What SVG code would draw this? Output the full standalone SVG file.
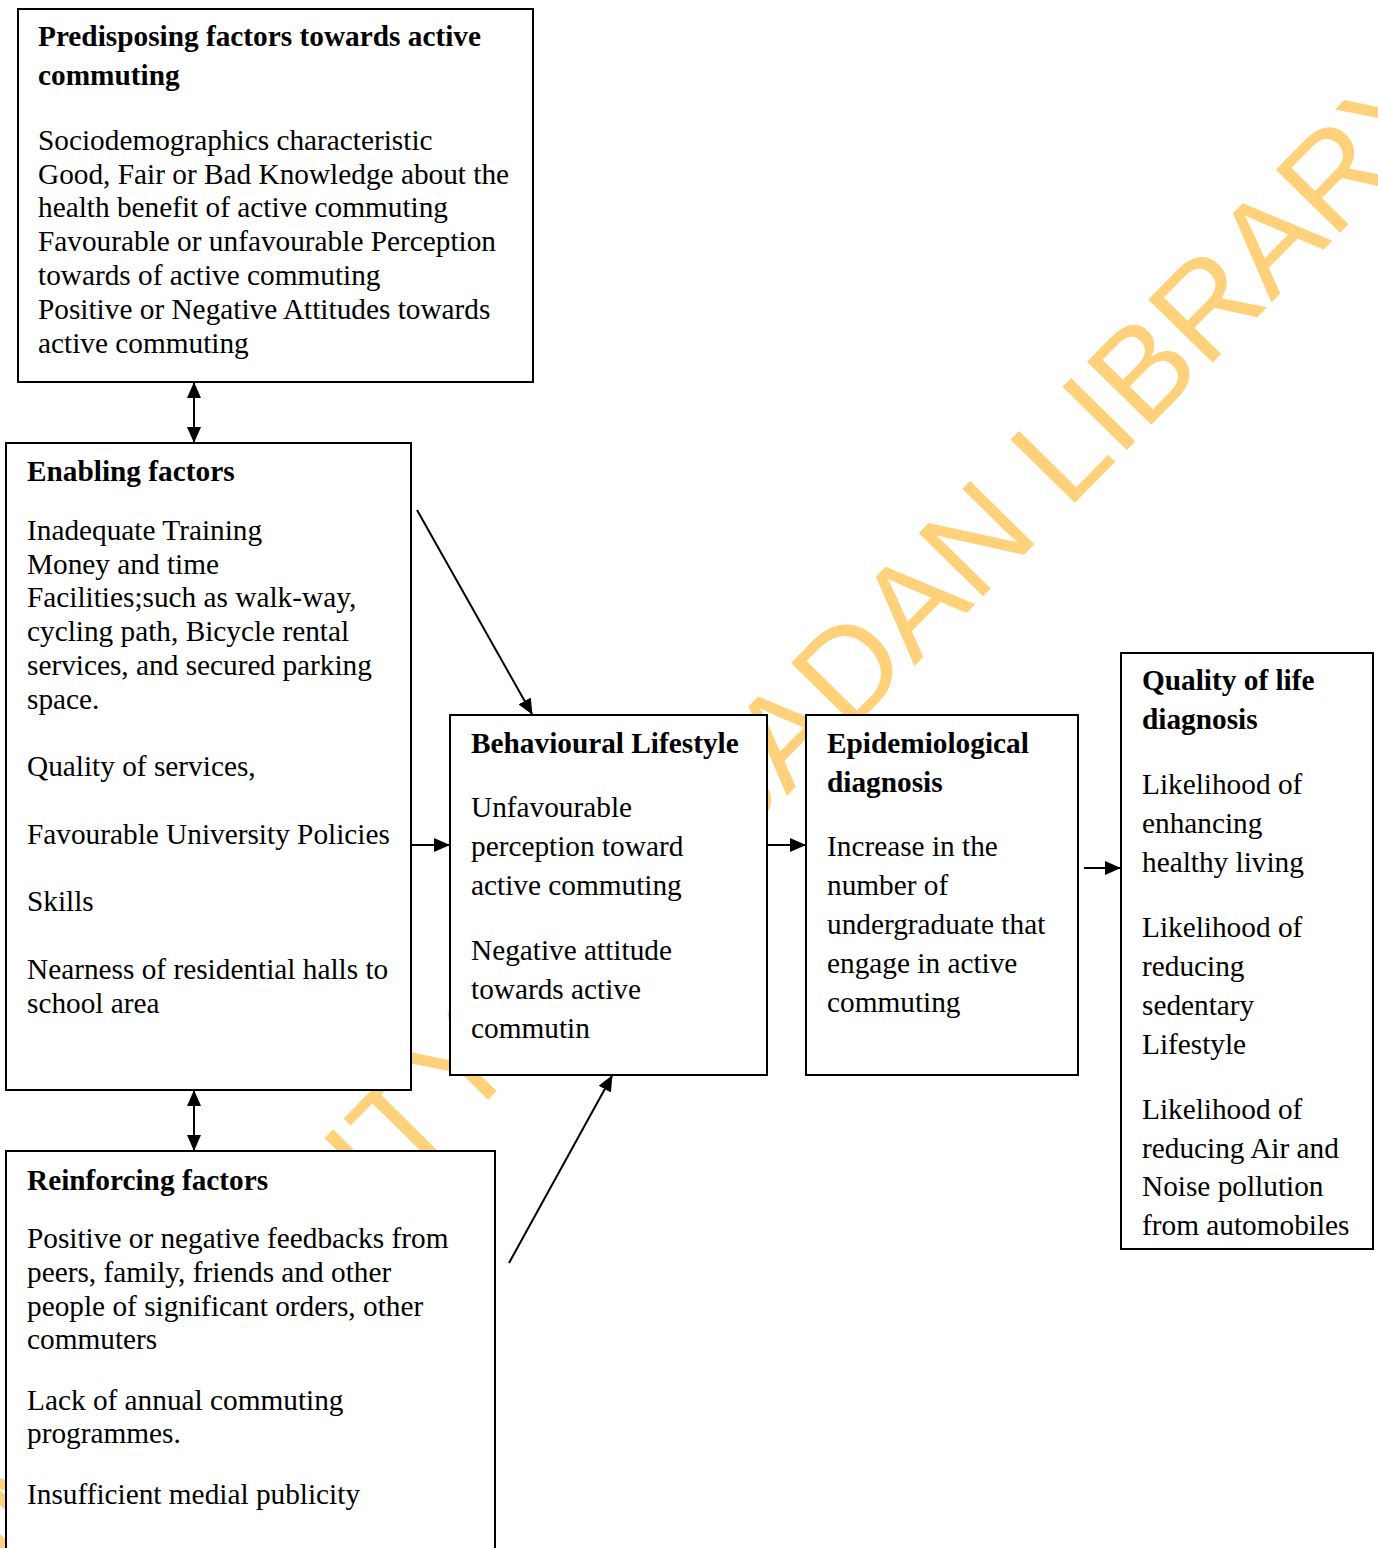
<svg xmlns="http://www.w3.org/2000/svg" width="1378" height="1548" viewBox="0 0 1378 1548">
<style>
.box{fill:#fff;stroke:#000;stroke-width:2}
.t{font-family:"Liberation Serif","Times New Roman",serif;font-size:29.3px;fill:#000}
.b{font-weight:bold}
.wm{font-family:"Liberation Sans",Arial,sans-serif;font-size:131px;fill:#FED17A}
.c{stroke:#000;stroke-width:2;fill:none}
</style>
<defs>
<marker id="ah" markerUnits="userSpaceOnUse" markerWidth="16" markerHeight="14" refX="15" refY="7" orient="auto-start-reverse" viewBox="0 0 16 14">
<path d="M0,0 L16,7 L0,14 Z" fill="#000"/>
</marker>
</defs>
<rect width="1378" height="1548" fill="#fff"/>
<g id="watermark">
<text class="wm" transform="translate(-28,1625) rotate(-45.5)">UNIVERSITY OF IBADAN LIBRARY</text>
</g>
<g id="predisposing">
<rect class="box" x="18" y="9" width="515" height="373"/>
<text class="t b" x="38" y="46">Predisposing factors towards active</text>
<text class="t b" x="38" y="85">commuting</text>
<text class="t" x="38" y="150">Sociodemographics characteristic</text>
<text class="t" x="38" y="184">Good, Fair or Bad Knowledge about the</text>
<text class="t" x="38" y="217">health benefit of active commuting</text>
<text class="t" x="38" y="251">Favourable or unfavourable Perception</text>
<text class="t" x="38" y="285">towards of active commuting</text>
<text class="t" x="38" y="319">Positive or Negative Attitudes towards</text>
<text class="t" x="38" y="353">active commuting</text>
</g>
<g id="enabling">
<rect class="box" x="6" y="443" width="405" height="647"/>
<text class="t b" x="27" y="481">Enabling factors</text>
<text class="t" x="27" y="540">Inadequate Training</text>
<text class="t" x="27" y="574">Money and time</text>
<text class="t" x="27" y="607">Facilities;such as walk-way,</text>
<text class="t" x="27" y="641">cycling path, Bicycle rental</text>
<text class="t" x="27" y="675">services, and secured parking</text>
<text class="t" x="27" y="709">space.</text>
<text class="t" x="27" y="776">Quality of services,</text>
<text class="t" x="27" y="844">Favourable University Policies</text>
<text class="t" x="27" y="911">Skills</text>
<text class="t" x="27" y="979">Nearness of residential halls to</text>
<text class="t" x="27" y="1013">school area</text>
</g>
<g id="reinforcing">
<rect class="box" x="6" y="1151" width="489" height="420"/>
<text class="t b" x="27" y="1190">Reinforcing factors</text>
<text class="t" x="27" y="1248">Positive or negative feedbacks from</text>
<text class="t" x="27" y="1282">peers, family, friends and other</text>
<text class="t" x="27" y="1316">people of significant orders, other</text>
<text class="t" x="27" y="1349">commuters</text>
<text class="t" x="27" y="1410">Lack of annual commuting</text>
<text class="t" x="27" y="1443">programmes.</text>
<text class="t" x="27" y="1504">Insufficient medial publicity</text>
</g>
<g id="behavioural">
<rect class="box" x="450" y="715" width="317" height="360"/>
<text class="t b" x="471" y="753">Behavioural Lifestyle</text>
<text class="t" x="471" y="817">Unfavourable</text>
<text class="t" x="471" y="856">perception toward</text>
<text class="t" x="471" y="895">active commuting</text>
<text class="t" x="471" y="960">Negative attitude</text>
<text class="t" x="471" y="999">towards active</text>
<text class="t" x="471" y="1038">commutin</text>
</g>
<g id="epidemiological">
<rect class="box" x="806" y="715" width="272" height="360"/>
<text class="t b" x="827" y="753">Epidemiological</text>
<text class="t b" x="827" y="792">diagnosis</text>
<text class="t" x="827" y="856">Increase in the</text>
<text class="t" x="827" y="895">number of</text>
<text class="t" x="827" y="934">undergraduate that</text>
<text class="t" x="827" y="973">engage in active</text>
<text class="t" x="827" y="1012">commuting</text>
</g>
<g id="quality">
<rect class="box" x="1121" y="653" width="252" height="596"/>
<text class="t b" x="1142" y="690">Quality of life</text>
<text class="t b" x="1142" y="729">diagnosis</text>
<text class="t" x="1142" y="794">Likelihood of</text>
<text class="t" x="1142" y="833">enhancing</text>
<text class="t" x="1142" y="872">healthy living</text>
<text class="t" x="1142" y="937">Likelihood of</text>
<text class="t" x="1142" y="976">reducing</text>
<text class="t" x="1142" y="1015">sedentary</text>
<text class="t" x="1142" y="1054">Lifestyle</text>
<text class="t" x="1142" y="1119">Likelihood of</text>
<text class="t" x="1142" y="1158">reducing Air and</text>
<text class="t" x="1142" y="1196">Noise pollution</text>
<text class="t" x="1142" y="1235">from automobiles</text>
</g>
<g id="connectors">
<line class="c" x1="194" y1="383" x2="194" y2="442" marker-start="url(#ah)" marker-end="url(#ah)"/>
<line class="c" x1="194" y1="1091" x2="194" y2="1150" marker-start="url(#ah)" marker-end="url(#ah)"/>
<line class="c" x1="417" y1="510" x2="532" y2="714" marker-end="url(#ah)"/>
<line class="c" x1="509" y1="1263" x2="612" y2="1076" marker-end="url(#ah)"/>
<line class="c" x1="411" y1="845" x2="449" y2="845" marker-end="url(#ah)"/>
<line class="c" x1="767" y1="845" x2="805" y2="845" marker-end="url(#ah)"/>
<line class="c" x1="1084" y1="868" x2="1120" y2="868" marker-end="url(#ah)"/>
</g>
</svg>
